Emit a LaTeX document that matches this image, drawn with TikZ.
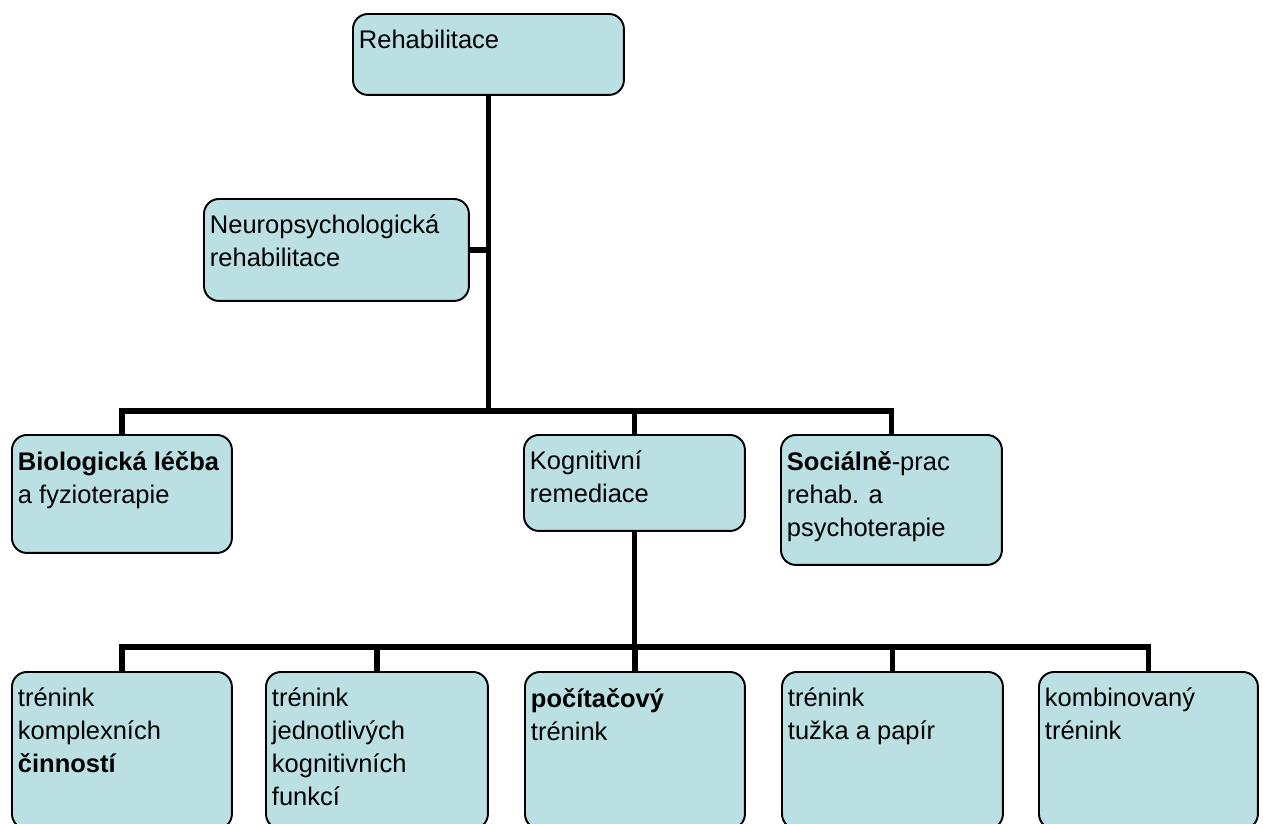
\documentclass[tikz,border=0pt]{standalone}
\usepackage{fontspec}
\setmainfont{Liberation Sans}
\usetikzlibrary{positioning}

\definecolor{boxfill}{RGB}{186,224,227}

% text inside a box, kept at its top left corner
\newcommand{\obsah}[3]{\parbox[t][#2][t]{#1}{#3}}

\begin{document}
\begin{tikzpicture}[
            x = 0.02cm, y = -0.02cm, % one unit = one pixel of the page
            blok/.style = {
                draw = black,
                line width = 1.1pt,
                fill = boxfill,
                rounded corners = 0.3cm,
                anchor = north west,
                inner xsep = 0.12cm,
                inner ysep = 0.32cm,
                font = \fontsize{14.5}{18.8}\selectfont
            },
            spoj/.style = {
                line width = 3.1pt,
                line join = miter
            }
        ]

        \useasboundingbox (0,0) rectangle (1263,823);
        \clip (0,0) rectangle (1263,823);

        % top levels
        \node[blok] (reh) at (352,13) {\obsah{5.18cm}{0.98cm}{Rehabilitace}};
        \node[blok] (neuro) at (203,198) {\obsah{5.06cm}{1.40cm}{Neuropsychologická\\rehabilitace}};

        % middle row
        \node[blok] (bio) at (11,434) {\obsah{4.16cm}{1.72cm}{\textbf{Biologická léčba}\\a fyzioterapie}};
        \node[blok] (kog) at (523,434) {\obsah{4.18cm}{1.28cm}{Kognitivní\\remediace}};
        \node[blok] (soc) at (780,434) {\obsah{4.18cm}{1.96cm}{\textbf{Sociálně}-prac\\rehab. a\\psychoterapie}};

        % bottom row
        \node[blok] (t1) at (11,671) {\obsah{4.16cm}{2.50cm}{trénink\\komplexních\\\textbf{činností}}};
        \node[blok] (t2) at (265,671) {\obsah{4.20cm}{2.50cm}{trénink\\jednotlivých\\kognitivních\\funkcí}};
        \node[blok] (t3) at (524,671) {\obsah{4.16cm}{2.50cm}{\textbf{počítačový}\\trénink}};
        \node[blok] (t4) at (781,671) {\obsah{4.18cm}{2.50cm}{trénink\\tužka a papír}};
        \node[blok] (t5) at (1038,671) {\obsah{4.14cm}{2.50cm}{kombinovaný\\trénink}};

        \coordinate (rozc1) at (488,411);
        \coordinate (rozc2) at (634,647);

        % connectors
        \draw[spoj] (reh.south) -- (reh.south |- rozc1);
        \draw[spoj] (neuro.east) -- (neuro.east -| reh.south);
        \draw[spoj] (bio.north) |- (soc.north |- rozc1) -- (soc.north);
        \draw[spoj] (kog.north) -- (kog.north |- rozc1);

        \draw[spoj] (kog.south) -- (kog.south |- rozc2);
        \draw[spoj] (t1.north) |- (t5.north |- rozc2) -- (t5.north);
        \draw[spoj] (t2.north) -- (t2.north |- rozc2);
        \draw[spoj] (t3.north) -- (t3.north |- rozc2);
        \draw[spoj] (t4.north) -- (t4.north |- rozc2);
\end{tikzpicture}
\end{document}
